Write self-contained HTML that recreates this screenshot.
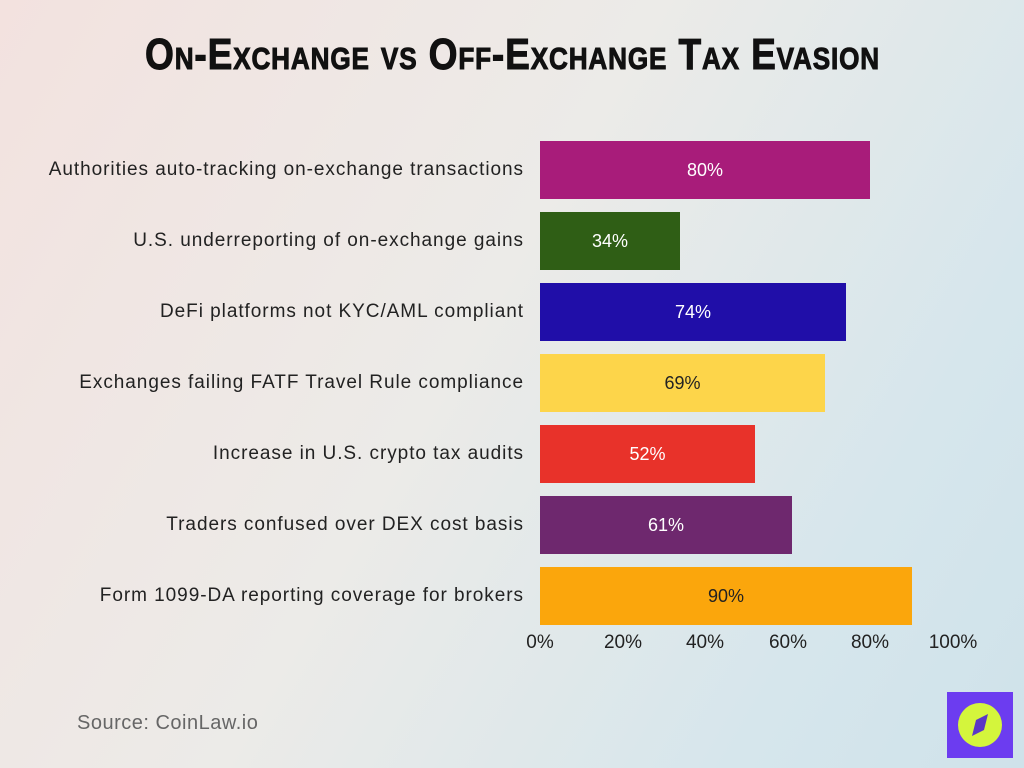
<!DOCTYPE html>
<html><head><style>
body{margin:0;width:1024px;height:768px;overflow:hidden;font-family:"Liberation Sans",sans-serif;
background:linear-gradient(120deg,#f3e2df 0%,#ecebe8 45%,#d6e6ec 80%,#cfe2ea 100%);position:relative}
.t{position:absolute;left:145px;top:30px;width:735px;height:50px;}
.t span{display:inline-block;font-weight:bold;font-size:44px;font-variant:small-caps;letter-spacing:1px;transform-origin:left top;white-space:nowrap;color:#111;-webkit-text-stroke:1px #111}
.lab{position:absolute;right:500px;font-size:19px;letter-spacing:0.95px;color:#222;text-align:right;white-space:nowrap;height:58px;line-height:58px}
.bar{position:absolute;left:540px;height:58px;line-height:58px;text-align:center;font-size:18px;color:#fff}
.tick{position:absolute;top:632px;font-size:19px;color:#222;width:60px;margin-left:-30px;text-align:center}
</style></head><body>
<div class="t"><span id="tt" style="transform:scaleX(0.78)">On-Exchange vs Off-Exchange Tax Evasion</span></div>
<div class="lab" style="top:141px">Authorities auto-tracking on-exchange transactions</div>
<div class="bar" style="top:141px;width:330px;background:#a81c7a">80%</div>
<div class="lab" style="top:212px">U.S. underreporting of on-exchange gains</div>
<div class="bar" style="top:212px;width:140px;background:#2f5e15">34%</div>
<div class="lab" style="top:283px">DeFi platforms not KYC/AML compliant</div>
<div class="bar" style="top:283px;width:306px;background:#200ea8">74%</div>
<div class="lab" style="top:354px">Exchanges failing FATF Travel Rule compliance</div>
<div class="bar" style="top:354px;width:285px;background:#fdd54a;color:#222">69%</div>
<div class="lab" style="top:425px">Increase in U.S. crypto tax audits</div>
<div class="bar" style="top:425px;width:215px;background:#e8322a">52%</div>
<div class="lab" style="top:496px">Traders confused over DEX cost basis</div>
<div class="bar" style="top:496px;width:252px;background:#6e286e">61%</div>
<div class="lab" style="top:567px">Form 1099-DA reporting coverage for brokers</div>
<div class="bar" style="top:567px;width:372px;background:#fba60c;color:#222">90%</div>
<div class="tick" style="left:540px">0%</div>
<div class="tick" style="left:623px">20%</div>
<div class="tick" style="left:705px">40%</div>
<div class="tick" style="left:788px">60%</div>
<div class="tick" style="left:870px">80%</div>
<div class="tick" style="left:953px">100%</div>
<div style="position:absolute;left:77px;top:712px;font-size:20px;letter-spacing:0.5px;color:#666">Source: CoinLaw.io</div>
<svg style="position:absolute;left:947px;top:692px" width="66" height="66"><rect width="66" height="66" fill="#6c3cf0"/><circle cx="33" cy="33" r="22" fill="#d4f53c"/><polygon points="41,22 37,38 25,44 29,28" fill="#5a36c8"/></svg>
<script>var s=document.getElementById('tt');var w=s.getBoundingClientRect().width;s.style.transform='scaleX('+(0.78*735/w)+')';</script>
</body></html>
